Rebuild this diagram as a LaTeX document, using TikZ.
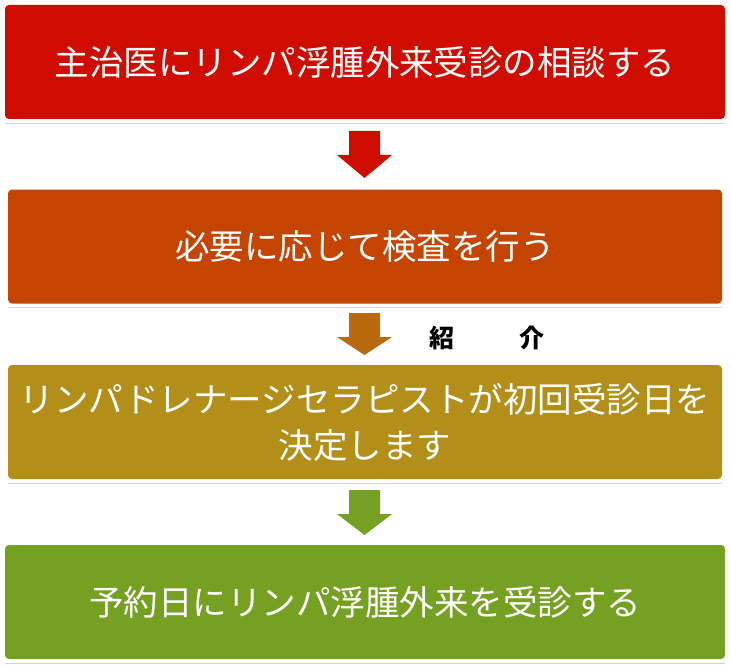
\documentclass[tikz,border=0pt]{standalone}
\usepackage{fontspec}
\setmainfont{Noto Sans CJK JP}
\usetikzlibrary{positioning}
\definecolor{stepred}{HTML}{D00C00}
\definecolor{steporange}{HTML}{C44400}
\definecolor{stepgold}{HTML}{B38F1A}
\definecolor{stepgreen}{HTML}{76A022}
\definecolor{arrowbrown}{HTML}{B86A0C}
\tikzset{
  stepbox/.style={rounded corners=4pt, minimum width=716pt, minimum height=114pt,
    text=white, font=\fontsize{34.5pt}{46pt}\selectfont, align=center, inner sep=0pt},
  downarrow/.style={draw=none}
}
\newcommand{\flowarrow}[3]{% top y, bottom y, colour
  \fill[#3] (349,#1) -- (380,#1) -- (380,#1+24) -- (392,#1+24) -- (364.5,#2)
    -- (337,#1+24) -- (349,#1+24) -- cycle;}
\begin{document}
\begin{tikzpicture}[x=1pt,y=-1pt]
  \useasboundingbox (0,0) rectangle (731,666);

  % Schritte
  \node[stepbox, fill=stepred, minimum width=720pt] (konsult) at (365,62)
    {主治医にリンパ浮腫外来受診の相談する};
  \node[stepbox, fill=steporange, minimum width=714pt] (kensa) at (365,246.5)
    {必要に応じて検査を行う};
  \node[stepbox, fill=stepgold, minimum width=714pt] (kettei) at (365,422)
    {リンパドレナージセラピストが初回受診日を\\決定します};
  \node[stepbox, fill=stepgreen, minimum width=720pt] (jushin) at (365,602)
    {予約日にリンパ浮腫外来を受診する};

  % Schattenlinien
  \foreach \n in {konsult,kensa,kettei,jushin}
    \draw[gray!35, line width=1pt] ([yshift=-4pt]\n.south west) -- ([yshift=-4pt]\n.south east);

  % Pfeile
  \flowarrow{131}{178}{stepred}
  \flowarrow{313}{355}{arrowbrown}
  \flowarrow{490}{535}{stepgreen}

  \node[font=\bfseries\fontsize{25pt}{28pt}\selectfont] (shokai) at (487,338) {紹\hspace{2.6em}介};
\end{tikzpicture}
\end{document}
